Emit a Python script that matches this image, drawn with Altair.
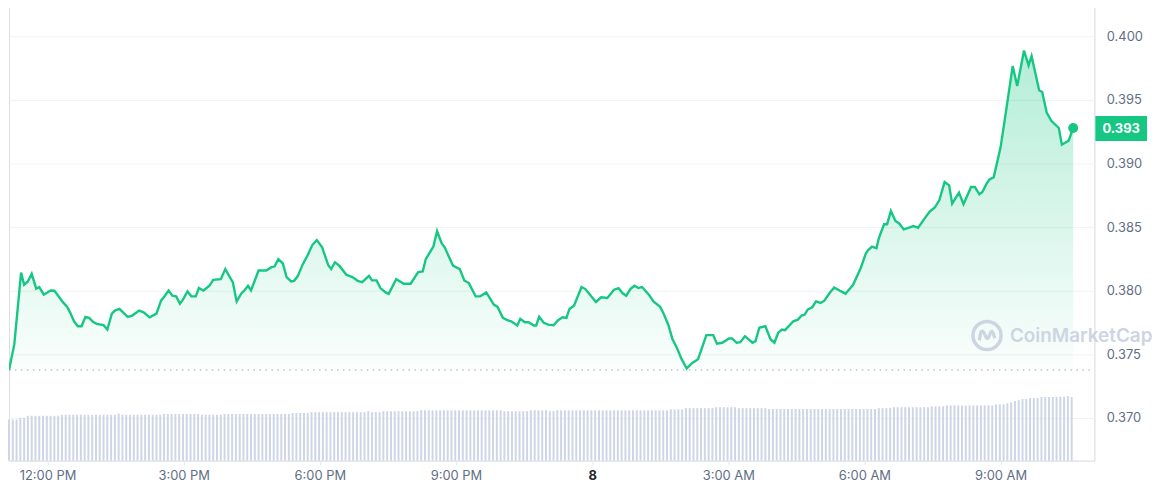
import altair as alt
import pandas as pd

START = pd.Timestamp("2024-03-07 11:09:00")

# price trace: minutes after start, price (USD)
price_minutes = [
    0, 7, 16, 20, 25, 30, 36, 40, 46, 55, 60, 65, 71, 77, 81, 86, 91, 96, 101, 106,
    111, 116, 125, 130, 136, 140, 146, 157, 163, 172, 178, 186, 195, 201, 205, 211, 216, 221, 226, 230,
    236, 241, 247, 251, 257, 265, 270, 280, 286, 296, 301, 307, 312, 316, 320, 330, 340, 347, 351, 356,
    362, 367, 373, 377, 382, 388, 395, 401, 407, 414, 422, 426, 431, 437, 446, 454, 461, 467, 476, 480,
    486, 491, 498, 502, 512, 522, 531, 541, 547, 551, 561, 566, 572, 576, 587, 596, 602, 608, 617, 623,
    631, 641, 646, 653, 659, 664, 672, 676, 682, 687, 694, 697, 701, 707, 713, 720, 726, 732, 737, 741,
    747, 757, 762, 769, 776, 783, 791, 800, 806, 811, 816, 822, 827, 832, 837, 846, 852, 861, 866, 872,
    877, 883, 889, 896, 903, 911, 922, 931, 936, 943, 952, 956, 962, 967, 973, 983, 987, 992, 1000, 1007,
    1012, 1017, 1022, 1026, 1037, 1043, 1048, 1052, 1056, 1062, 1067, 1073, 1078, 1085, 1091, 1098, 1106, 1116, 1126, 1133,
    1136, 1141, 1147, 1150, 1157, 1161, 1166, 1172, 1177, 1183, 1196, 1202, 1209, 1217, 1224, 1230, 1237, 1243, 1247, 1256,
    1262, 1272, 1277, 1283, 1287, 1292, 1296, 1302, 1311, 1317, 1327, 1333, 1342, 1348, 1352, 1362, 1366, 1372, 1378, 1388,
    1392, 1401, 1407,
]
price_values = [
    0.37377, 0.37578, 0.38143, 0.38047, 0.38073, 0.38133, 0.38016, 0.38029, 0.37969, 0.38002,
    0.38000, 0.37961, 0.37912, 0.37873, 0.37826, 0.37760, 0.37721, 0.37721, 0.37795, 0.37787,
    0.37755, 0.37740, 0.37729, 0.37695, 0.37820, 0.37844, 0.37857, 0.37795, 0.37805, 0.37844,
    0.37830, 0.37791, 0.37820, 0.37922, 0.37951, 0.38002, 0.37961, 0.37956, 0.37898, 0.37930,
    0.37995, 0.37956, 0.37956, 0.38021, 0.38002, 0.38039, 0.38086, 0.38091, 0.38170, 0.38065,
    0.37916, 0.37977, 0.38008, 0.38039, 0.38002, 0.38159, 0.38159, 0.38185, 0.38190, 0.38248,
    0.38216, 0.38107, 0.38073, 0.38078, 0.38117, 0.38203, 0.38281, 0.38359, 0.38398, 0.38341,
    0.38203, 0.38170, 0.38224, 0.38195, 0.38125, 0.38107, 0.38078, 0.38068, 0.38117, 0.38081,
    0.38081, 0.38021, 0.37987, 0.37975, 0.38091, 0.38055, 0.38055, 0.38146, 0.38151, 0.38248,
    0.38346, 0.38469, 0.38373, 0.38341, 0.38198, 0.38170, 0.38081, 0.38060, 0.37956, 0.37956,
    0.37987, 0.37891, 0.37873, 0.37787, 0.37768, 0.37760, 0.37727, 0.37779, 0.37752, 0.37752,
    0.37727, 0.37727, 0.37795, 0.37748, 0.37734, 0.37729, 0.37768, 0.37791, 0.37787, 0.37857,
    0.37883, 0.38029, 0.38013, 0.37963, 0.37912, 0.37948, 0.37943, 0.38008, 0.38021, 0.37982,
    0.37961, 0.38016, 0.38039, 0.38021, 0.38029, 0.37969, 0.37916, 0.37873, 0.37813, 0.37727,
    0.37623, 0.37552, 0.37466, 0.37388, 0.37430, 0.37461, 0.37651, 0.37651, 0.37584, 0.37591,
    0.37625, 0.37625, 0.37591, 0.37596, 0.37643, 0.37591, 0.37604, 0.37709, 0.37721, 0.37617,
    0.37591, 0.37670, 0.37695, 0.37690, 0.37760, 0.37773, 0.37805, 0.37813, 0.37852, 0.37870,
    0.37916, 0.37904, 0.37922, 0.37982, 0.38026, 0.38002, 0.37977, 0.38047, 0.38177, 0.38295,
    0.38320, 0.38346, 0.38334, 0.38412, 0.38523, 0.38523, 0.38627, 0.38549, 0.38529, 0.38482,
    0.38508, 0.38495, 0.38555, 0.38620, 0.38654, 0.38711, 0.38854, 0.38828, 0.38685, 0.38771,
    0.38680, 0.38815, 0.38815, 0.38758, 0.38776, 0.38836, 0.38873, 0.38893, 0.39127, 0.39362,
    0.39766, 0.39609, 0.39888, 0.39771, 0.39844, 0.39576, 0.39562, 0.39401, 0.39336, 0.39279,
    0.39148, 0.39180, 0.39279,
]

# 5-minute volume bars (relative units)
volume_values = [
    45.3, 45.3, 45.3, 47.3, 47.3, 49.4, 49.4, 49.4, 49.4, 49.4,
    49.4, 49.4, 49.4, 49.4, 50.4, 50.4, 50.4, 50.4, 50.4, 50.4,
    50.4, 50.4, 50.4, 50.4, 50.4, 50.4, 50.4, 50.4, 50.4, 51.7,
    50.4, 50.4, 50.4, 50.4, 50.4, 50.4, 50.4, 50.4, 50.4, 50.4,
    50.4, 51.4, 51.4, 51.4, 51.4, 51.4, 51.4, 51.4, 51.4, 51.4,
    51.4, 50.4, 50.4, 50.4, 50.4, 50.4, 50.4, 51.4, 51.4, 51.4,
    51.4, 51.4, 51.4, 51.4, 51.4, 51.4, 51.4, 51.4, 51.4, 51.4,
    51.4, 51.4, 51.4, 51.4, 51.4, 52.4, 52.4, 52.4, 52.4, 52.4,
    53.4, 53.4, 53.4, 53.4, 53.4, 53.4, 53.4, 53.4, 53.4, 53.4,
    53.4, 53.4, 53.4, 53.4, 53.4, 54.4, 53.4, 53.4, 53.4, 54.4,
    54.4, 54.4, 54.4, 54.4, 54.4, 54.4, 54.4, 54.4, 54.4, 55.4,
    55.4, 55.4, 55.4, 55.4, 55.4, 55.4, 55.4, 55.4, 55.4, 55.4,
    55.4, 55.4, 55.4, 55.4, 55.4, 55.4, 55.4, 55.4, 55.4, 55.4,
    55.4, 54.4, 54.4, 54.4, 54.4, 54.4, 54.4, 54.4, 55.4, 55.4,
    55.4, 55.4, 55.4, 54.4, 54.4, 55.4, 55.4, 55.4, 55.4, 55.4,
    55.4, 55.4, 55.4, 55.4, 55.4, 55.4, 55.4, 55.4, 55.4, 55.4,
    55.4, 55.4, 55.4, 55.4, 55.4, 55.4, 55.4, 55.4, 55.4, 55.4,
    55.4, 55.4, 55.4, 55.4, 55.4, 56.4, 56.4, 56.4, 56.4, 57.8,
    57.8, 57.8, 57.8, 57.8, 57.8, 57.8, 57.8, 58.8, 58.8, 58.8,
    58.8, 58.8, 58.8, 57.8, 57.8, 57.8, 57.8, 57.8, 57.8, 57.8,
    57.8, 56.8, 56.8, 56.8, 56.8, 56.8, 56.8, 56.8, 56.8, 56.8,
    56.8, 56.8, 56.8, 56.8, 56.8, 56.8, 56.8, 56.8, 56.8, 56.8,
    56.8, 56.8, 56.8, 56.8, 56.8, 56.8, 56.8, 56.8, 56.8, 56.8,
    57.8, 57.8, 57.8, 57.8, 58.8, 58.8, 58.8, 58.8, 58.8, 58.8,
    58.8, 58.8, 58.8, 58.8, 59.8, 59.8, 59.8, 59.8, 60.8, 60.8,
    60.8, 60.8, 60.8, 60.8, 60.8, 60.8, 60.8, 60.8, 60.8, 60.8,
    60.8, 61.9, 61.9, 61.9, 63.0, 64.2, 65.6, 66.5, 67.9, 67.9,
    68.9, 68.9, 68.9, 70.0, 70.0, 70.0, 70.0, 70.0, 70.5, 70.5,
    71.0, 70.0,
]

OPEN_PRICE = 0.37377
y_ticks = [0.370, 0.375, 0.380, 0.385, 0.390, 0.395, 0.400]
x_tick_hours = [(7, 12), (7, 15), (7, 18), (7, 21), (8, 0), (8, 3), (8, 6), (8, 9)]


def iso(m):
    return (START + pd.Timedelta(minutes=m)).strftime("%Y-%m-%dT%H:%M:%SZ")


price_df = pd.DataFrame({"t": [iso(m) for m in price_minutes], "price": price_values})
vol_df = pd.DataFrame({"t": [iso(i * 5) for i in range(len(volume_values))], "volume": volume_values})
last_df = price_df.tail(1)
one = pd.DataFrame({"k": [0]})

GREEN = "#16c784"
LABEL = "#616e85"
GRID = "#eff2f5"
WM = "#cdd4e2"
W, H = 1092, 462

x_enc = alt.X(
    "t:T",
    scale=alt.Scale(
        type="utc",
        padding=0,
        domain=[
            alt.DateTime(year=2024, month=3, date=7, hours=11, minutes=9, utc=True),
            alt.DateTime(year=2024, month=3, date=8, hours=11, minutes=4, utc=True),
        ],
    ),
    axis=alt.Axis(
        values=[alt.DateTime(year=2024, month=3, date=d, hours=h, utc=True) for d, h in x_tick_hours],
        labelExpr="utchours(datum.value) == 0 ? utcFormat(datum.value, '%-d') : utcFormat(datum.value, '%-I:%M %p')",
        labelColor={"condition": {"test": "utchours(datum.value) == 0", "value": "#222531"}, "value": LABEL},
        labelFontWeight={"condition": {"test": "utchours(datum.value) == 0", "value": "bold"}, "value": "normal"},
        labelFontSize=13,
        labelFont="Inter",
        labelPadding=5,
        tickSize=4,
        tickColor="#e3e7ee",
        domainColor="#e3e7ee",
        grid=False,
        title=None,
        labelFlush=False,
    ),
    title=None,
)

y_scale = alt.Scale(domain=[0.366641, 0.402734], nice=False, zero=False)
y_enc = alt.Y(
    "price:Q",
    scale=y_scale,
    axis=alt.Axis(
        orient="right",
        values=y_ticks,
        format=".3f",
        grid=True,
        gridColor=GRID,
        domain=True,
        domainColor="#e3e7ee",
        ticks=False,
        labelPadding=12,
        labelFontSize=13,
        labelFont="Inter",
        labelColor=LABEL,
        title=None,
    ),
)

bars = alt.Chart(vol_df).mark_bar(width=2, color="#cdd5e6").encode(
    x=x_enc,
    y=alt.Y("volume:Q", scale=alt.Scale(domain=[0, 505], nice=False, zero=True), axis=None),
)

area = alt.Chart(price_df).mark_area(
    color=alt.Gradient(
        gradient="linear",
        stops=[
            alt.GradientStop(color="rgba(22,199,132,0.32)", offset=0),
            alt.GradientStop(color="rgba(22,199,132,0.02)", offset=1),
        ],
        x1=1, x2=1, y1=0, y2=1,
    ),
    clip=True,
).encode(x=x_enc, y=y_enc, y2=alt.datum(OPEN_PRICE))

base_rule = alt.Chart(one).mark_rule(strokeDash=[1.5, 4.5], color="#9aa3b5", strokeWidth=1.2).encode(
    y=alt.datum(OPEN_PRICE), x=alt.value(0), x2=alt.value(W)
)

line = alt.Chart(price_df).mark_line(color=GREEN, strokeWidth=2.4, clip=True).encode(x=x_enc, y=y_enc)

dot = alt.Chart(last_df).mark_circle(size=100, color=GREEN, opacity=1).encode(x=x_enc, y=y_enc)

badge = alt.Chart(last_df).mark_rect(color=GREEN, yOffset=-12, y2Offset=13).encode(
    x=alt.value(W + 1), x2=alt.value(W + 53), y=y_enc, y2="price:Q"
)
badge_text = alt.Chart(last_df).mark_text(
    color="white", fontSize=13, fontWeight="bold", font="Inter", align="center", baseline="middle", dy=1
).encode(x=alt.value(W + 27), y=y_enc, text=alt.Text("price:Q", format=".3f"))

wm_ring = alt.Chart(one).mark_point(
    shape="circle", filled=False, size=800, strokeWidth=3.5, color=WM, opacity=1
).encode(x=alt.value(984), y=alt.value(336))
wm_wave = alt.Chart(one).mark_point(
    shape="M-0.55,0.35 L-0.45,-0.2 Q-0.35,-0.45 -0.2,-0.15 L-0.05,0.15 Q0.05,0.3 0.15,0.05 L0.25,-0.2 Q0.35,-0.4 0.45,-0.15 L0.55,0.2",
    filled=False, size=800, strokeWidth=3.3, color=WM, opacity=1,
).encode(x=alt.value(984), y=alt.value(336))
wm_text = alt.Chart(one).mark_text(
    text="CoinMarketCap", font="Inter", fontSize=19, fontWeight=600, color=WM, align="left", baseline="middle"
).encode(x=alt.value(1007), y=alt.value(337))

price_layer = alt.layer(area, base_rule, line, dot, badge, badge_text, wm_ring, wm_wave, wm_text)

chart = (
    alt.layer(bars, price_layer)
    .resolve_scale(y="independent")
    .properties(
        width=W,
        height=H,
        padding={"top": -8, "left": 0, "right": 0, "bottom": 0},
        background="white",
    )
    .configure_view(stroke=None)
    .configure(font="Inter")
)

chart.save("out.html", embed_options={"renderer": "svg", "actions": False})
